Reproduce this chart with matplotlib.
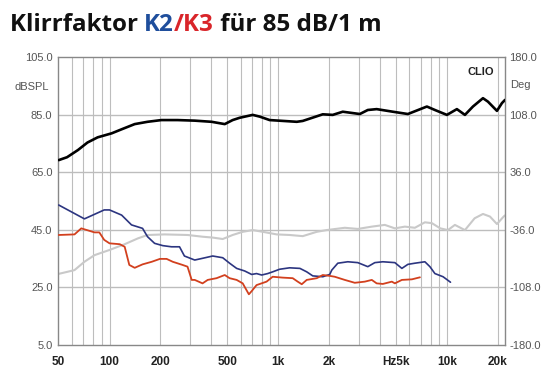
import numpy as np
import matplotlib
matplotlib.use("Agg")
import matplotlib.pyplot as plt
from matplotlib.ticker import FixedLocator, NullFormatter

#################################################################
# data
#################################################################

# frequency response (black)
spl_f = [50, 56, 65, 74, 85, 103, 118, 141, 168, 203, 253, 320, 403, 482, 537, 591, 706,
	777, 890, 1288, 1398, 1837, 2105, 2414, 3046, 3397, 3834, 4780, 5870, 7610, 8490,
	10000, 11460, 12790, 14270, 16360, 17510, 19800, 21200, 22100]
spl_db = [69.2, 70.2, 72.7, 75.3, 77.1, 78.5, 79.9, 81.7, 82.5, 83.1, 83.1, 82.9, 82.5,
	81.7, 83.1, 83.9, 84.9, 84.3, 83.1, 82.5, 82.8, 85.1, 84.9, 86.0, 85.2, 86.6, 86.9,
	86.0, 85.2, 87.8, 86.6, 84.9, 86.9, 84.9, 87.8, 90.7, 89.5, 86.3, 89.0, 90.1]

# light grey curve
grey_f = [50, 62, 71, 81.5, 100, 123, 147, 168, 212, 290, 356, 409, 469, 537, 616, 706,
	810, 980, 1168, 1398, 1692, 1936, 2481, 2964, 3587, 4284, 4915, 5633, 6457, 7404,
	8150, 9130, 10140, 11150, 12790, 14600, 16360, 18000, 19800, 21700, 22100]
grey_db = [29.7, 31.0, 33.9, 36.2, 38.0, 40.0, 42.0, 43.2, 43.4, 43.2, 42.6, 42.3, 41.8,
	43.2, 44.3, 44.9, 44.3, 43.4, 43.2, 42.8, 44.3, 44.9, 45.7, 45.3, 46.1, 46.7, 45.5,
	46.1, 45.7, 47.6, 47.3, 45.5, 44.9, 46.7, 44.9, 49.0, 50.5, 49.6, 47.0, 49.6, 50.0]

# K2 (blue)
k2_f = [50, 71, 93, 100, 118, 135, 157, 168, 185, 207, 233, 260, 278, 320, 356, 409, 469,
	515, 567, 633, 696, 744, 798, 866, 927, 1019, 1168, 1345, 1476, 1602, 1837, 2021,
	2077, 2255, 2585, 2964, 3397, 3738, 4171, 4915, 5408, 5870, 6457, 7404, 7930, 8490,
	9490, 10500]
k2_db = [53.6, 48.8, 51.9, 51.9, 50.1, 46.7, 45.5, 42.6, 40.3, 39.5, 39.1, 39.1, 35.9,
	34.5, 35.1, 35.9, 35.3, 33.4, 31.6, 30.7, 29.5, 29.8, 29.3, 29.8, 30.4, 31.3, 31.8,
	31.6, 30.4, 29.0, 28.7, 29.5, 31.0, 33.4, 33.9, 33.6, 32.2, 33.6, 33.9, 33.6, 31.6,
	33.0, 33.4, 33.9, 32.2, 29.8, 28.7, 26.8]

# K3 (red)
k3_f = [50, 62, 68, 81.5, 87, 93, 100, 115, 123, 131, 141, 157, 178, 199, 218, 237, 271,
	290, 307, 320, 356, 382, 431, 482, 515, 567, 616, 670, 696, 744, 853, 927, 1061, 1219,
	1305, 1379, 1476, 1692, 1837, 2021, 2164, 2481, 2844, 3261, 3587, 3834, 4171, 4717,
	4915, 5408, 6200, 6920]
k3_db = [43.2, 43.4, 45.5, 44.1, 44.1, 41.5, 40.3, 40.0, 39.1, 32.8, 31.8, 33.0, 33.9,
	34.9, 34.9, 33.9, 32.8, 32.2, 27.6, 27.6, 26.4, 27.6, 28.2, 29.3, 28.2, 27.6, 26.4,
	22.6, 23.7, 25.8, 27.0, 28.7, 28.4, 28.2, 27.0, 26.1, 27.6, 28.2, 29.3, 29.0, 28.7,
	27.6, 26.6, 27.0, 27.6, 26.4, 26.2, 27.0, 26.4, 27.6, 27.8, 28.5]

x_ticks = [50, 100, 200, 500, 1000, 2000, 5000, 10000, 20000]
x_labels = ["50", "100", "200", "500", "1k", "2k", "Hz5k", "10k", "20k"]
db_ticks = [5, 25, 45, 65, 85, 105]
deg_ticks = [-180, -108, -36, 36, 108, 180]

#################################################################
# plot
#################################################################

W, H = 559, 389
fig = plt.figure(figsize=(W / 100, H / 100), dpi=100)
fig.patch.set_facecolor("white")
ax = fig.add_axes([58 / W, 1 - 345 / H, (505 - 58) / W, (345 - 57) / H])

ax.set_xscale("log")
ax.set_xlim(49.5, 22100)
ax.set_ylim(5, 105)

# grid
minor = [f * d for d in [10, 100, 1000, 10000] for f in range(1, 10)]
minor = [m for m in minor if 50 < m < 22000]
for m in minor:
	ax.axvline(m, color="#bdbdbd", lw=0.8, zorder=0)
for y in [25, 45, 65, 85]:
	ax.axhline(y, color="#bdbdbd", lw=1.0, zorder=0)

kw = dict(solid_joinstyle="round", solid_capstyle="round")
ax.plot(grey_f, grey_db, color="#c9c9c9", lw=1.5, zorder=2, **kw)
ax.plot(k2_f, k2_db, color="#2c3580", lw=1.2, zorder=3, **kw)
ax.plot(k3_f, k3_db, color="#d2401e", lw=1.3, zorder=3, **kw)
ax.plot(spl_f, spl_db, color="black", lw=1.9, zorder=4, **kw)

ax.xaxis.set_major_locator(FixedLocator(x_ticks))
ax.xaxis.set_minor_locator(FixedLocator([]))
ax.xaxis.set_minor_formatter(NullFormatter())
ax.set_xticklabels(x_labels)
ax.set_yticks(db_ticks)
ax.set_yticklabels([f"{v:.1f}" for v in db_ticks])
ax.tick_params(axis="x", length=0, pad=8, labelsize=8.5, colors="#222222")
for lab in ax.get_xticklabels():
	lab.set_fontweight("bold")
	lab.set_family("Liberation Sans")
ax.tick_params(axis="y", length=0, pad=4, labelsize=8, labelcolor="#555555")
for lab in ax.get_yticklabels():
	lab.set_family("Liberation Sans")

for s in ax.spines.values():
	s.set_color("#888888")
	s.set_linewidth(1.0)

ax2 = ax.twinx()
ax2.set_ylim(-180, 180)
ax2.set_yticks(deg_ticks)
ax2.set_yticklabels([f"{v:.1f}" for v in deg_ticks])
ax2.tick_params(axis="y", length=0, pad=3, labelsize=8, labelcolor="#555555")
for lab in ax2.get_yticklabels():
	lab.set_family("Liberation Sans")
for s in ax2.spines.values():
	s.set_visible(False)

fig.text(32 / W, 1 - 87 / H, "dBSPL", fontsize=8, color="#555555", family="Liberation Sans",
	ha="center", va="center")
fig.text(510 / W, 1 - 85 / H, "Deg", fontsize=8, color="#555555", family="Liberation Sans",
	ha="left", va="center")
ax.text(0.975, 0.965, "CLIO", transform=ax.transAxes, fontsize=8, fontweight="bold",
	family="Liberation Sans", ha="right", va="top", color="#222222")

# title in three colours, placed piece by piece
parts = [("Klirrfaktor ", "#111111"), ("K2", "#1f4e9c"), ("/K3", "#d9252a"), (" für 85 dB/1 m", "#111111")]
renderer = fig.canvas.get_renderer()
x0 = 10 / W
for txt, col in parts:
	t = fig.text(x0, 1 - 25 / H, txt, fontsize=17.4, fontweight="bold", family="Open Sans",
		color=col, ha="left", va="center")
	bb = t.get_window_extent(renderer=renderer)
	x0 = bb.x1 / W

fig.savefig("out.png", dpi=100)
